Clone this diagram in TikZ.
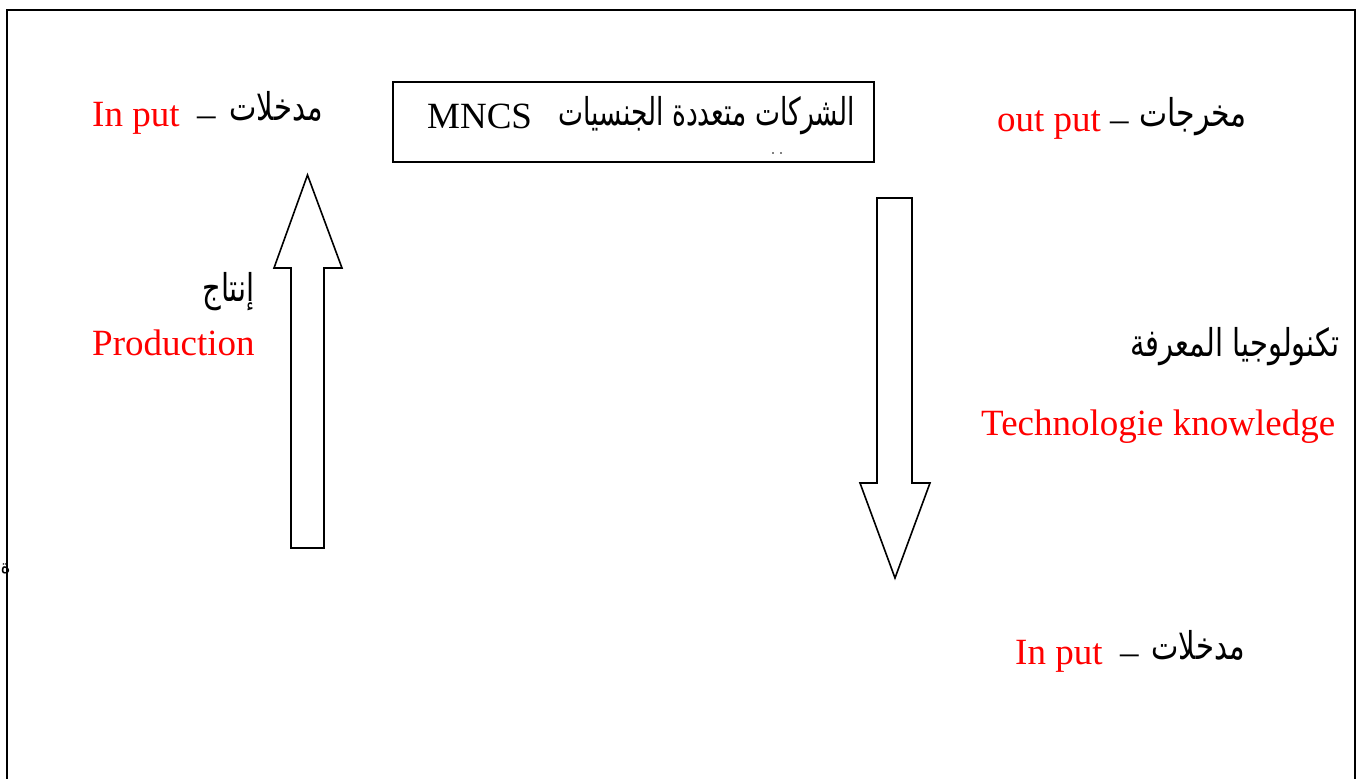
\documentclass[tikz,border=0pt]{standalone}
\usepackage{fontspec}
\setmainfont{Liberation Serif}
\newfontfamily\arabicfont[Script=Arabic]{DejaVu Sans}
\TeXXeTstate=1
% Arabic words, set a little taller than the font draws them
\newcommand{\artext}[2][1]{\scalebox{#1}[1.32]{\arabicfont\beginR #2\endR}}
\begin{document}
\begin{tikzpicture}[x=1pt,y=-1pt,
  lat/.style={font=\fontsize{37}{40}\selectfont, text=red, inner sep=0},
  dashtxt/.style={font=\fontsize{37}{40}\selectfont, inner sep=0},
  ar/.style={font=\arabicfont\fontsize{29}{34}\selectfont, inner sep=0},
  blockarrow/.style={draw, line width=1.6, fill=white, line join=miter}]
\useasboundingbox (0,0) rectangle (1361,779);
\fill[white] (0,0) rectangle (1361,779);

% outer frame, open at the bottom edge of the page
\draw[line width=2] (7,800) -- (7,10) -- (1355,10) -- (1355,800);

% small glyph at the left border
\node[font=\arabicfont\fontsize{19}{21}\selectfont, inner sep=0, anchor=base west] (edge) at (0.5,573) {\beginR ة\endR};

% central box
\node[draw, line width=1.6, minimum width=481, minimum height=80, inner sep=0] (box) at (633.5,122) {};
\node[dashtxt, anchor=base west] (mncs) at (427,128) {MNCS};
\node[ar, anchor=base east] (mncsAr) at (855,125) {\artext[0.915]{الشركات متعددة الجنسيات}};
\fill (773,153) circle (0.8) (781,153) circle (0.8);

% top-left: inputs
\node[lat, anchor=base west] (in1) at (92,126) {In put};
\node[dashtxt, anchor=base west] (d1) at (197,126) {–};
\node[ar, anchor=base east] (in1Ar) at (323,120) {\artext{مدخلات}};

% top-right: outputs
\node[lat, anchor=base west] (out) at (997,131) {out put};
\node[dashtxt, anchor=base west] (d2) at (1110,131) {–};
\node[ar, anchor=base east] (outAr) at (1247,126) {\artext[1.03]{مخرجات}};

% production label
\node[ar, anchor=base east] (prodAr) at (255,301) {\artext{إنتاج}};
\node[lat, anchor=base west] (prod) at (92,355) {Production};

% knowledge technology label
\node[ar, anchor=base east] (techAr) at (1340,356) {\artext{تكنولوجيا المعرفة}};
\node[lat, anchor=base west] (tech) at (981,435) {Technologie knowledge};

% bottom-right: inputs
\node[lat, anchor=base west] (in2) at (1015,664) {In put};
\node[dashtxt, anchor=base west] (d3) at (1120,664) {–};
\node[ar, anchor=base east] (in2Ar) at (1245,659) {\artext{مدخلات}};

% block arrows
\draw[blockarrow] (291,548) -- (291,268) -- (274,268) -- (307.5,175) -- (342,268) -- (324,268) -- (324,548) -- cycle;
\draw[blockarrow] (877,198) -- (912,198) -- (912,483) -- (930,483) -- (895,578) -- (860,483) -- (877,483) -- cycle;
\end{tikzpicture}
\end{document}
